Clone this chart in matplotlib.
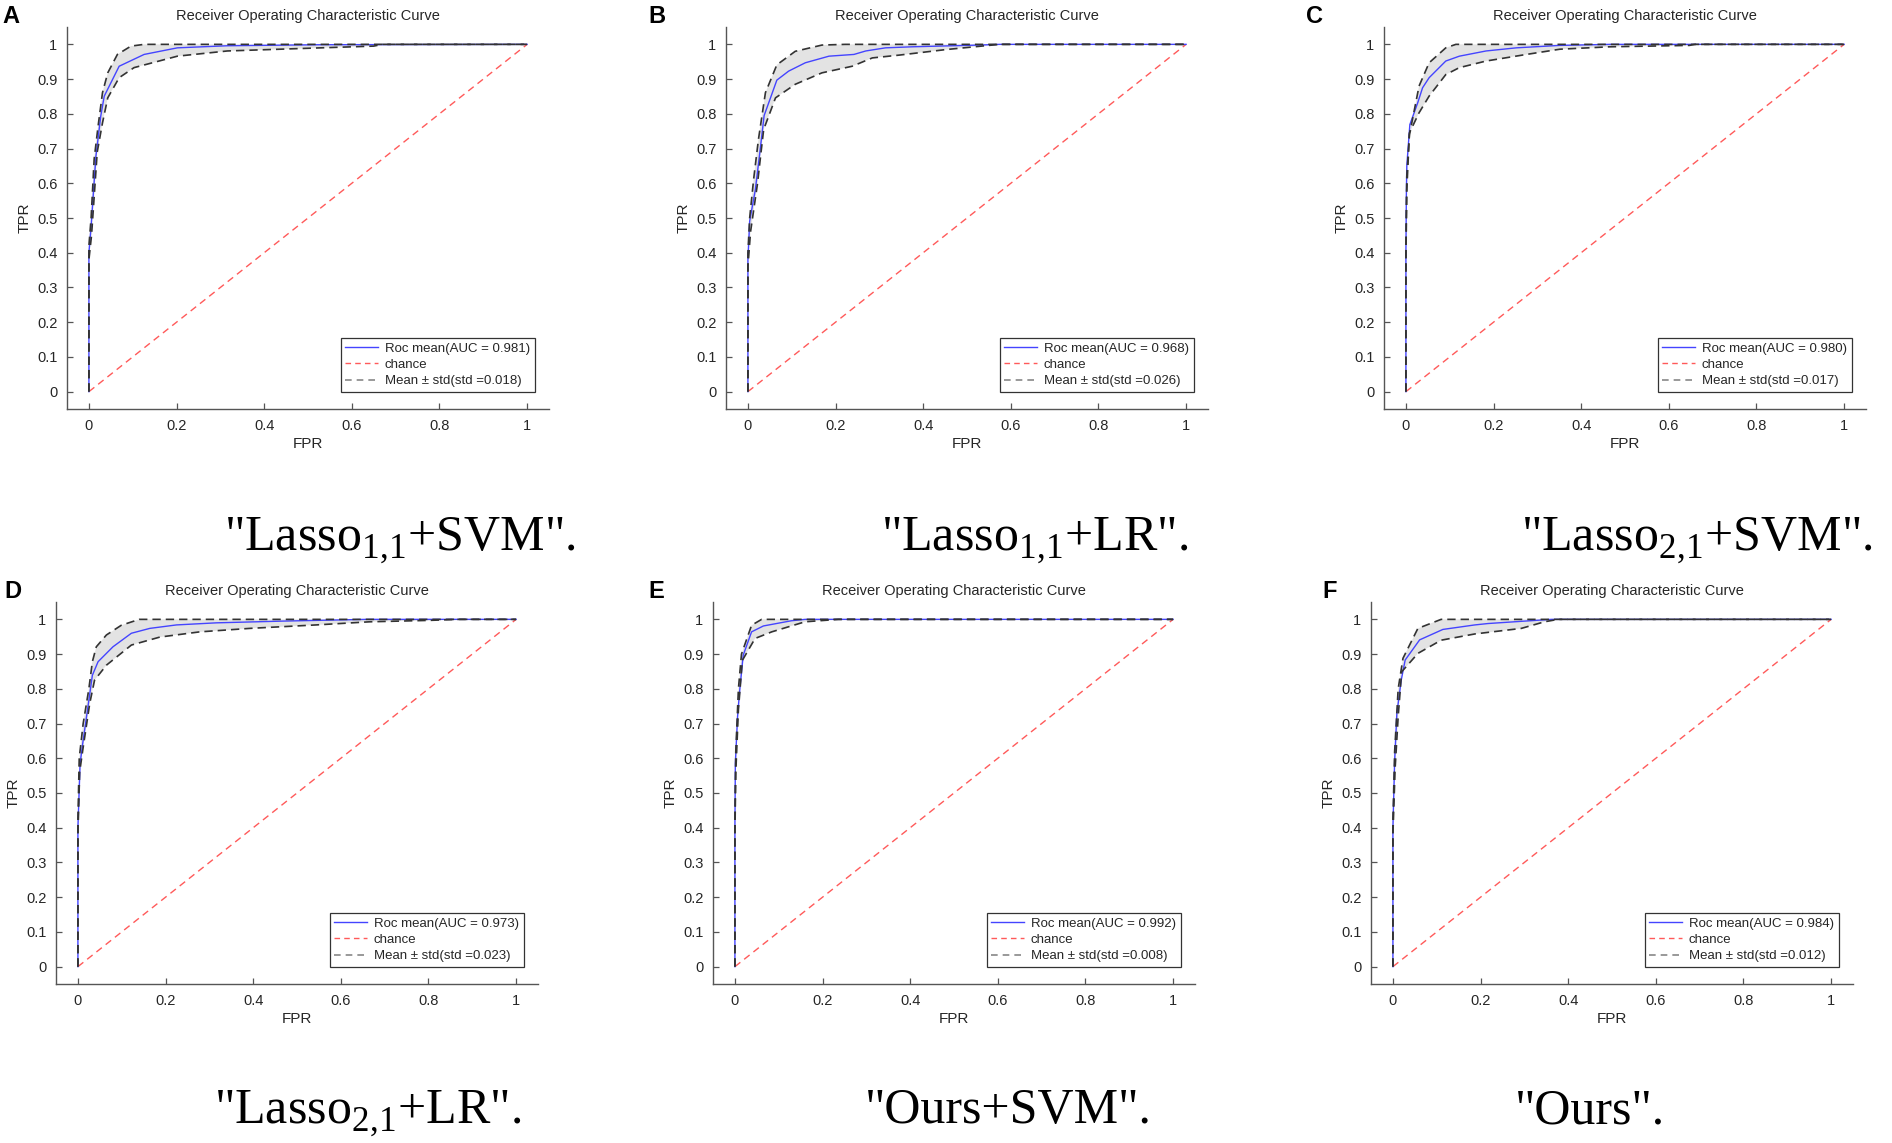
"""Six ROC panels (mean curve +/- std band) with method captions."""
import matplotlib
matplotlib.use("Agg")
import matplotlib.pyplot as plt
from matplotlib.lines import Line2D
from matplotlib.ticker import FuncFormatter

plt.rcParams["font.family"] = ["Liberation Sans", "DejaVu Sans"]
plt.rcParams["mathtext.fontset"] = "custom"
plt.rcParams["mathtext.rm"] = "Liberation Serif"

W, H = 1892, 1143

# ---- data ----------------------------------------------------------------
LETTERS = ["A", "B", "C", "D", "E", "F"]
AUC = ["0.981", "0.968", "0.980", "0.973", "0.992", "0.984"]
STD = ["0.018", "0.026", "0.017", "0.023", "0.008", "0.012"]
CAPTIONS = ['"Lasso$_\\mathrm{1,\\!1}$+SVM".', '"Lasso$_\\mathrm{1,\\!1}$+LR".',
            '"Lasso$_\\mathrm{2,\\!1}$+SVM".', '"Lasso$_\\mathrm{2,\\!1}$+LR".',
            '"Ours+SVM".', '"Ours".']

# A: Lasso1,1+SVM
A_MEAN_FPR = [0, 0, 0.005, 0.016, 0.027, 0.035, 0.069, 0.126, 0.202, 0.316, 0.53, 1.0]
A_MEAN_TPR = [0, 0.40, 0.476, 0.678, 0.793, 0.851, 0.937, 0.971, 0.990, 0.996, 0.999, 1.0]
A_UP_FPR = [0, 0, 0.005, 0.012, 0.021, 0.031, 0.043, 0.065, 0.096, 0.126, 1.0]
A_UP_TPR = [0, 0.42, 0.50, 0.67, 0.765, 0.861, 0.918, 0.971, 0.995, 1.0, 1.0]
A_LO_FPR = [0, 0, 0.006, 0.019, 0.031, 0.043, 0.069, 0.103, 0.202, 0.316, 0.53, 0.65, 0.67, 1.0]
A_LO_TPR = [0, 0.38, 0.45, 0.69, 0.774, 0.846, 0.904, 0.933, 0.966, 0.981, 0.990, 0.995, 1.0, 1.0]

# B: Lasso1,1+LR
B_MEAN_FPR = [0, 0, 0.004, 0.017, 0.028, 0.037, 0.053, 0.066, 0.093, 0.131, 0.185,
              0.242, 0.269, 0.314, 0.375, 0.528, 0.574, 1.0]
B_MEAN_TPR = [0, 0.38, 0.491, 0.582, 0.697, 0.795, 0.851, 0.897, 0.923, 0.947, 0.966,
              0.971, 0.981, 0.990, 0.993, 0.998, 1.0, 1.0]
B_UP_FPR = [0, 0, 0.004, 0.013, 0.024, 0.040, 0.066, 0.108, 0.169, 0.222, 1.0]
B_UP_TPR = [0, 0.40, 0.50, 0.611, 0.726, 0.861, 0.941, 0.980, 0.998, 1.0, 1.0]
B_LO_FPR = [0, 0, 0.006, 0.022, 0.030, 0.036, 0.063, 0.108, 0.169, 0.238, 0.284,
            0.345, 0.452, 0.574, 1.0]
B_LO_TPR = [0, 0.36, 0.46, 0.60, 0.69, 0.755, 0.846, 0.885, 0.918, 0.937, 0.961,
            0.969, 0.985, 1.0, 1.0]

# C: Lasso2,1+SVM
C_MEAN_FPR = [0, 0, 0.001, 0.002, 0.009, 0.027, 0.038, 0.053, 0.072, 0.091, 0.122,
              0.183, 0.252, 0.351, 0.465, 1.0]
C_MEAN_TPR = [0, 0.40, 0.563, 0.649, 0.769, 0.832, 0.875, 0.904, 0.928, 0.952, 0.966,
              0.981, 0.990, 0.997, 1.0, 1.0]
C_UP_FPR = [0, 0, 0.002, 0.008, 0.015, 0.030, 0.053, 0.091, 0.114, 1.0]
C_UP_TPR = [0, 0.42, 0.62, 0.74, 0.784, 0.880, 0.947, 0.990, 1.0, 1.0]
C_LO_FPR = [0, 0, 0.002, 0.008, 0.030, 0.053, 0.091, 0.122, 0.183, 0.275, 0.351,
            0.465, 0.647, 0.66, 1.0]
C_LO_TPR = [0, 0.38, 0.58, 0.745, 0.803, 0.851, 0.913, 0.933, 0.952, 0.971, 0.986,
            0.993, 0.997, 1.0, 1.0]

# D: Lasso2,1+LR
D_MEAN_FPR = [0, 0, 0.005, 0.011, 0.025, 0.033, 0.046, 0.080, 0.122, 0.164, 0.225,
              0.316, 0.468, 0.658, 1.0]
D_MEAN_TPR = [0, 0.40, 0.585, 0.643, 0.767, 0.839, 0.878, 0.921, 0.960, 0.974, 0.984,
              0.990, 0.995, 1.0, 1.0]
D_UP_FPR = [0, 0, 0.003, 0.012, 0.025, 0.033, 0.042, 0.065, 0.099, 0.14, 1.0]
D_UP_TPR = [0, 0.42, 0.60, 0.70, 0.80, 0.878, 0.921, 0.955, 0.983, 1.0, 1.0]
D_LO_FPR = [0, 0, 0.004, 0.011, 0.027, 0.038, 0.065, 0.122, 0.187, 0.278, 0.392,
            0.544, 0.666, 0.80, 0.87, 1.0]
D_LO_TPR = [0, 0.38, 0.56, 0.623, 0.758, 0.825, 0.868, 0.926, 0.949, 0.964, 0.974,
            0.984, 0.993, 0.997, 1.0, 1.0]

# E: Ours+SVM
E_MEAN_FPR = [0, 0, 0.001, 0.006, 0.011, 0.019, 0.038, 0.065, 0.129, 0.16, 1.0]
E_MEAN_TPR = [0, 0.40, 0.585, 0.719, 0.796, 0.897, 0.964, 0.981, 0.996, 1.0, 1.0]
E_UP_FPR = [0, 0, 0.002, 0.008, 0.015, 0.038, 0.061, 1.0]
E_UP_TPR = [0, 0.42, 0.62, 0.80, 0.90, 0.983, 1.0, 1.0]
E_LO_FPR = [0, 0, 0.002, 0.008, 0.017, 0.046, 0.084, 0.16, 0.236, 1.0]
E_LO_TPR = [0, 0.38, 0.56, 0.74, 0.882, 0.945, 0.964, 0.993, 1.0, 1.0]

# F: Ours
F_MEAN_FPR = [0, 0, 0.004, 0.009, 0.019, 0.028, 0.061, 0.114, 0.187, 0.217, 0.301, 0.362, 1.0]
F_MEAN_TPR = [0, 0.40, 0.595, 0.729, 0.825, 0.883, 0.941, 0.971, 0.984, 0.988, 0.995, 1.0, 1.0]
F_UP_FPR = [0, 0, 0.004, 0.012, 0.023, 0.057, 0.11, 1.0]
F_UP_TPR = [0, 0.42, 0.62, 0.80, 0.888, 0.974, 1.0, 1.0]
F_LO_FPR = [0, 0, 0.005, 0.012, 0.02, 0.057, 0.11, 0.187, 0.293, 0.346, 0.377, 1.0]
F_LO_TPR = [0, 0.38, 0.57, 0.72, 0.849, 0.902, 0.940, 0.958, 0.974, 0.993, 1.0, 1.0]

CHANCE = [0, 1]

PANELS = [
    (A_MEAN_FPR, A_MEAN_TPR, A_UP_FPR, A_UP_TPR, A_LO_FPR, A_LO_TPR),
    (B_MEAN_FPR, B_MEAN_TPR, B_UP_FPR, B_UP_TPR, B_LO_FPR, B_LO_TPR),
    (C_MEAN_FPR, C_MEAN_TPR, C_UP_FPR, C_UP_TPR, C_LO_FPR, C_LO_TPR),
    (D_MEAN_FPR, D_MEAN_TPR, D_UP_FPR, D_UP_TPR, D_LO_FPR, D_LO_TPR),
    (E_MEAN_FPR, E_MEAN_TPR, E_UP_FPR, E_UP_TPR, E_LO_FPR, E_LO_TPR),
    (F_MEAN_FPR, F_MEAN_TPR, F_UP_FPR, F_UP_TPR, F_LO_FPR, F_LO_TPR),
]

# ---- layout (pixels in the 1892x1143 canvas) -----------------------------
AX_LEFT = [67, 726, 1384, 56, 713, 1371]
AX_BOTTOM = [409, 409, 409, 984, 984, 984]   # y of the bottom spine, from top
AX_W, AX_H = 482, 382
LETTER_X = [2, 648, 1306, 4, 648, 1322]
CAP_CX = [400, 1035, 1697, 368, 1008, 1590]
CAP_BASE = [550, 550, 550, 1123, 1123, 1123]

AX_COLOR = "#555555"
TXT_COLOR = "#262626"


def main():
    fig = plt.figure(figsize=(W / 100, H / 100), dpi=100)

    for i, (mf, mt, uf, ut, lf, lt) in enumerate(PANELS):
        left = AX_LEFT[i] / W
        bottom = 1 - AX_BOTTOM[i] / H
        ax = fig.add_axes([left, bottom, AX_W / W, AX_H / H])

        # std band
        ax.fill(list(uf) + list(lf)[::-1], list(ut) + list(lt)[::-1],
                color="#e3e3e3", lw=0, zorder=1)
        ax.plot(CHANCE, CHANCE, color="#ff5a5a", lw=1.0, dashes=(5, 3.5), zorder=2)
        ax.plot(mf, mt, color="#4444ff", lw=1.0, zorder=3)
        ax.plot(uf, ut, color="#333333", lw=1.2, dashes=(5, 3), zorder=4)
        ax.plot(lf, lt, color="#333333", lw=1.2, dashes=(5, 3), zorder=4)

        ax.set_xlim(-0.05, 1.05)
        ax.set_ylim(-0.05, 1.05)
        ax.set_xticks([0, 0.2, 0.4, 0.6, 0.8, 1.0])
        ax.set_yticks([k / 10 for k in range(11)])
        fmt = FuncFormatter(lambda v, p: f"{v:g}")
        ax.xaxis.set_major_formatter(fmt)
        ax.yaxis.set_major_formatter(fmt)
        for s in ("top", "right"):
            ax.spines[s].set_visible(False)
        for s in ("left", "bottom"):
            ax.spines[s].set_color(AX_COLOR)
            ax.spines[s].set_linewidth(1.0)
        ax.tick_params(direction="in", length=4.5, width=0.9, color=AX_COLOR,
                       labelcolor=TXT_COLOR, labelsize=10.5, pad=7)
        ax.set_xlabel("FPR", fontsize=11, color=TXT_COLOR, labelpad=3)
        ax.set_ylabel("TPR", fontsize=11, color=TXT_COLOR, labelpad=4)
        ax.set_title("Receiver Operating Characteristic Curve", fontsize=10.5,
                     color=TXT_COLOR, pad=5)

        handles = [
            Line2D([], [], color="#4444ff", lw=1.0),
            Line2D([], [], color="#ff5a5a", lw=1.0, dashes=(4, 3)),
            Line2D([], [], color="#888888", lw=1.2, dashes=(4, 3)),
        ]
        labels = [f"Roc mean(AUC = {AUC[i]})", "chance",
                  f"Mean \u00b1 std(std ={STD[i]})"]
        leg = ax.legend(handles, labels, loc="lower right",
                        bbox_to_anchor=(0.97, 0.045), borderaxespad=0,
                        fontsize=9.5, frameon=True, fancybox=False,
                        framealpha=1, handlelength=2.5, handletextpad=0.5,
                        labelspacing=0.3, borderpad=0.35)
        leg.get_frame().set_edgecolor("#333333")
        leg.get_frame().set_linewidth(0.9)
        for t in leg.get_texts():
            t.set_color(TXT_COLOR)

        top_px = AX_BOTTOM[i] - AX_H
        fig.text(LETTER_X[i] / W, 1 - (top_px - 4) / H, LETTERS[i],
                 fontsize=17, fontweight="bold", va="baseline", ha="left")
        fig.text(CAP_CX[i] / W, 1 - CAP_BASE[i] / H, CAPTIONS[i],
                 family="Liberation Serif", fontsize=36, va="baseline",
                 ha="center")

    fig.savefig("out.png", dpi=100)


if __name__ == "__main__":
    main()
